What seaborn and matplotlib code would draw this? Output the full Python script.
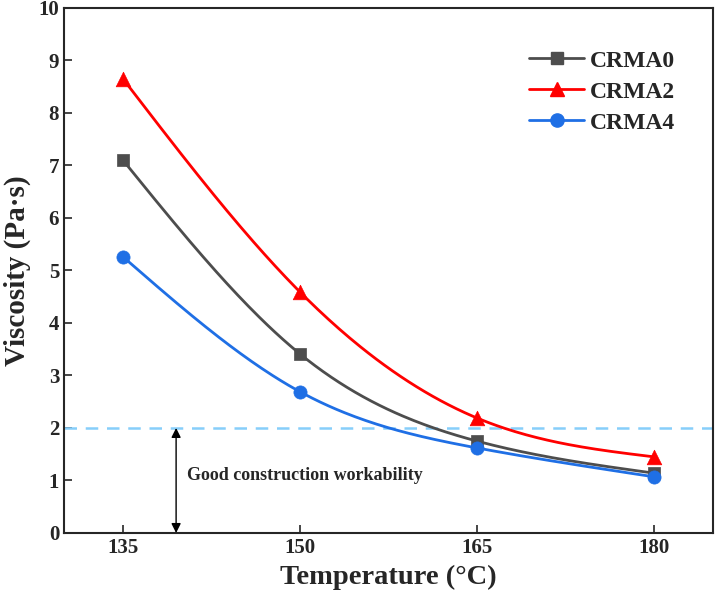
import numpy as np
import pandas as pd
import matplotlib
matplotlib.use("Agg")
import matplotlib.pyplot as plt
from matplotlib.lines import Line2D
import seaborn as sns

temperature = [135, 150, 165, 180]
crma0 = [7.10, 3.41, 1.75, 1.14]
crma2 = [8.65, 4.59, 2.19, 1.45]
crma4 = [5.26, 2.69, 1.62, 1.07]
series_names = ["CRMA0", "CRMA2", "CRMA4"]
x_ticks = [135, 150, 165, 180]
threshold = 2.0
note = "Good construction workability"

sns.set_style("ticks")
plt.rcParams['font.family'] = ['Liberation Serif', 'DejaVu Serif']
plt.rcParams['mathtext.fontset'] = 'stix'


def natural_spline(x, y, n=200):
    x = np.asarray(x, float)
    y = np.asarray(y, float)
    k = len(x)
    h = np.diff(x)
    A = np.zeros((k, k))
    b = np.zeros(k)
    A[0, 0] = 1
    A[-1, -1] = 1
    for i in range(1, k - 1):
        A[i, i - 1] = h[i - 1]
        A[i, i] = 2 * (h[i - 1] + h[i])
        A[i, i + 1] = h[i]
        b[i] = 3 * ((y[i + 1] - y[i]) / h[i] - (y[i] - y[i - 1]) / h[i - 1])
    c = np.linalg.solve(A, b)
    xs = np.linspace(x[0], x[-1], n)
    ys = np.empty_like(xs)
    for j, xv in enumerate(xs):
        i = min(np.searchsorted(x, xv, side='right') - 1, k - 2)
        bi = (y[i + 1] - y[i]) / h[i] - h[i] * (2 * c[i] + c[i + 1]) / 3
        di = (c[i + 1] - c[i]) / (3 * h[i])
        dx = xv - x[i]
        ys[j] = y[i] + bi * dx + c[i] * dx ** 2 + di * dx ** 3
    return xs, ys


fig = plt.figure(figsize=(7.16, 6.0), dpi=100)
ax = fig.add_axes([0.0894, 0.1117, 0.9064, 0.875])

colors = ["#4d4d4d", "#ff0000", "#1f6fe5"]
markers = ["s", "^", "o"]
msizes = [8, 10.5, 9.5]
handles = []
for name, vals, col, mk, ms in zip(series_names, [crma0, crma2, crma4], colors, markers, msizes):
    xs, ys = natural_spline(temperature, vals)
    sns.lineplot(x=xs, y=ys, ax=ax, color=col, lw=2, sort=False)
    sns.scatterplot(x=temperature, y=vals, ax=ax, color=col, marker=mk, s=ms ** 2,
                    edgecolor=col, linewidth=0.5, zorder=5)
    handles.append(Line2D([0], [0], color=col, lw=2, marker=mk, markersize=ms,
                          markeredgecolor=col))

ax.axhline(threshold, color="#87cefa", lw=1.8, ls=(0, (5, 3.5)), zorder=1)
ax.annotate("", xy=(139.5, 0), xytext=(139.5, threshold),
            arrowprops=dict(arrowstyle="<|-|>", color="black", lw=1,
                            mutation_scale=14, shrinkA=0, shrinkB=0))
ax.text(140.45, 1.09, note, fontsize=13, fontweight='bold', va='center', ha='left')

ax.set_xlim(130, 185)
ax.set_ylim(0, 10)
ax.set_xticks(x_ticks)
ax.set_yticks(range(0, 11))
ax.tick_params(direction='in', length=6, width=1.2, labelsize=15)
for lab in ax.get_xticklabels() + ax.get_yticklabels():
    lab.set_fontweight('bold')
for s in ax.spines.values():
    s.set_visible(True)
    s.set_linewidth(1.5)
ax.set_xlabel("Temperature (\u00b0C)", fontsize=20.5, fontweight='bold', labelpad=5)
ax.set_ylabel("Viscosity (Pa\u00b7s)", fontsize=21, fontweight='bold', labelpad=5)

leg = ax.legend(handles, series_names, loc='upper right', bbox_to_anchor=(0.975, 0.96),
                frameon=False, handlelength=2.35, handletextpad=0.25, labelspacing=0.4,
                prop={'weight': 'bold', 'size': 17})

fig.savefig("out.png", dpi=100)
